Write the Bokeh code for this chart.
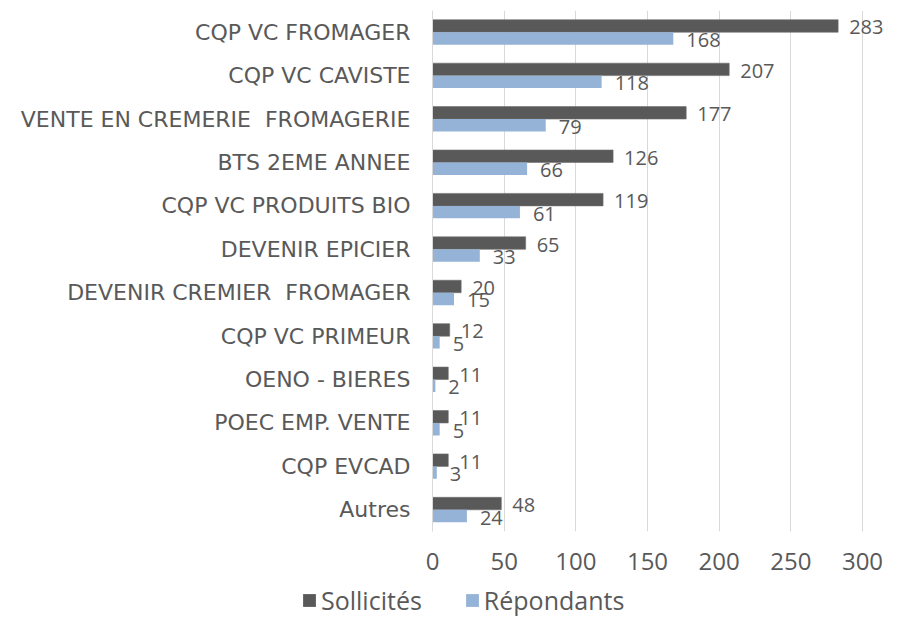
from bokeh.plotting import figure
from bokeh.layouts import column
from bokeh.models import (ColumnDataSource, FactorRange, Range1d, FixedTicker,
                          Legend, LegendItem)
from bokeh.transform import dodge
from bokeh.core.properties import value
from bokeh.embed import file_html
from bokeh.resources import INLINE

categories = ["CQP VC FROMAGER", "CQP VC CAVISTE", "VENTE EN CREMERIE  FROMAGERIE",
              "BTS 2EME ANNEE", "CQP VC PRODUITS BIO", "DEVENIR EPICIER",
              "DEVENIR CREMIER  FROMAGER", "CQP VC PRIMEUR", "OENO - BIERES",
              "POEC EMP. VENTE", "CQP EVCAD", "Autres"]
sollicites = [283, 207, 177, 126, 119, 65, 20, 12, 11, 11, 11, 48]
repondants = [168, 118, 79, 66, 61, 33, 15, 5, 2, 5, 3, 24]
x_ticks = [0, 50, 100, 150, 200, 250, 300]
series_names = ["Sollicités", "Répondants"]

DARK = "#595959"
BLUE = "#95B3D7"
TEXT = "#595959"
GRID = "#D9D9D9"
NUM_FONT = "Open Sans"
CAT_FONT = "DejaVu Sans"

# keep the visible double spaces of the original labels (SVG collapses plain ones)
shown = [c.replace("  ", " \u00a0") for c in categories]

src = ColumnDataSource(dict(
    cat=shown, sol=sollicites, rep=repondants,
    sol_t=[str(v) for v in sollicites], rep_t=[str(v) for v in repondants],
))

W = 884
H_MAIN, H_LEG = 580, 38
LEFT, TOP, FRAME_BOTTOM = 432, 10, 531
PX_PER_UNIT = 430 / 300.0

p = figure(width=W, height=H_MAIN, output_backend="svg", toolbar_location=None,
           y_range=FactorRange(*reversed(shown)),
           x_range=Range1d(0, (W - LEFT) / PX_PER_UNIT),
           min_border_left=LEFT, min_border_right=0, min_border_top=TOP,
           min_border_bottom=H_MAIN - FRAME_BOTTOM)
p.frame_align = False
p.outline_line_color = None
p.background_fill_color = None
p.border_fill_color = None

bh = 0.287
off = bh / 2
r1 = p.hbar(y=dodge("cat", off, range=p.y_range), right="sol", left=0, height=bh,
            source=src, fill_color=DARK, line_color="#6f6f6f", line_width=0.6)
r2 = p.hbar(y=dodge("cat", -off, range=p.y_range), right="rep", left=0, height=bh,
            source=src, fill_color=BLUE, line_color=None)

p.text(x="sol", y=dodge("cat", off, range=p.y_range), text="sol_t", source=src,
       x_offset=11, y_offset=1.5, text_baseline="middle", text_align="left",
       text_font=value(NUM_FONT), text_font_size="20px", text_color=TEXT)
p.text(x="rep", y=dodge("cat", -off, range=p.y_range), text="rep_t", source=src,
       x_offset=13, y_offset=1.5, text_baseline="middle", text_align="left",
       text_font=value(NUM_FONT), text_font_size="20px", text_color=TEXT)

# x axis
p.xaxis.ticker = FixedTicker(ticks=x_ticks)
p.xaxis.axis_line_color = None
p.xaxis.major_tick_line_color = None
p.xaxis.minor_tick_line_color = None
p.xaxis.major_label_standoff = 15
p.xaxis.major_label_text_font = NUM_FONT
p.xaxis.major_label_text_font_size = "24px"
p.xaxis.major_label_text_color = TEXT

# y axis
p.yaxis.axis_line_color = GRID
p.yaxis.major_tick_line_color = None
p.yaxis.minor_tick_line_color = None
p.yaxis.major_label_standoff = 16
p.yaxis.major_label_text_font = CAT_FONT
p.yaxis.major_label_text_font_size = "22px"
p.yaxis.major_label_text_color = TEXT

p.xgrid.ticker = FixedTicker(ticks=x_ticks)
p.xgrid.grid_line_color = GRID
p.ygrid.grid_line_color = None

# legend strip below the chart
pl = figure(width=W, height=H_LEG, output_backend="svg", toolbar_location=None,
            x_range=Range1d(0, 1), y_range=Range1d(0, 1),
            x_axis_type=None, y_axis_type=None,
            min_border_left=0, min_border_right=0, min_border_top=0,
            min_border_bottom=0)
pl.frame_align = False
pl.outline_line_color = None
pl.grid.visible = False
pl.background_fill_color = None
pl.border_fill_color = None
# stand-in renderers (outside the visible range) that only give the legend its swatches
d1 = pl.hbar(y=[-5], right=[0], left=[0], height=0.5, fill_color=DARK, line_color=None)
d2 = pl.hbar(y=[-5], right=[0], left=[0], height=0.5, fill_color=BLUE, line_color=None)

legend = Legend(items=[LegendItem(label=series_names[0], renderers=[d1]),
                       LegendItem(label=series_names[1], renderers=[d2])],
                orientation="horizontal", location=(301, 1),
                padding=0, margin=0, spacing=42, label_standoff=4,
                glyph_width=16, glyph_height=16,
                border_line_color=None, background_fill_alpha=0,
                label_text_font=NUM_FONT, label_text_font_size="25px",
                label_text_color=TEXT)
pl.add_layout(legend, "center")

layout = column(p, pl, spacing=0)
open("out.html", "w").write(file_html(layout, INLINE))
